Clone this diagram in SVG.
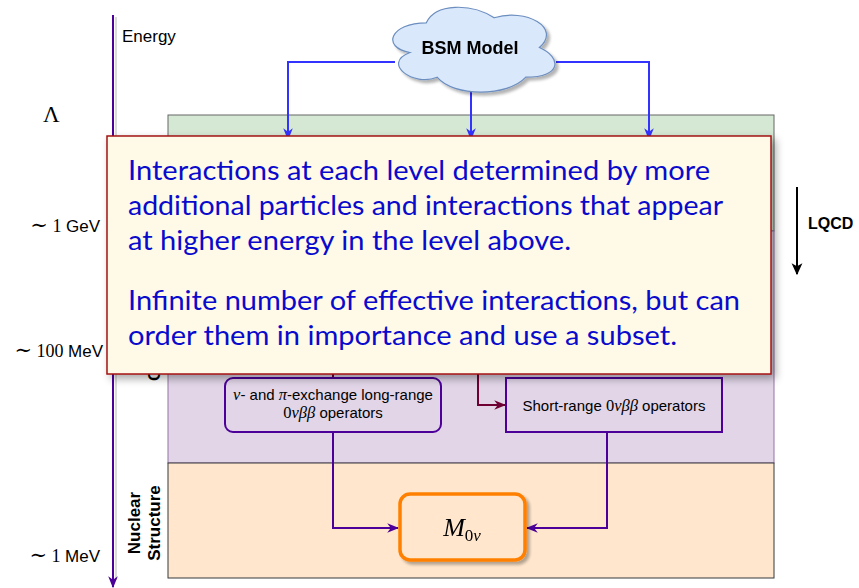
<svg xmlns="http://www.w3.org/2000/svg" width="859" height="588" viewBox="0 0 859 588">
<style>
.sans{font-family:"Liberation Sans",Arial,sans-serif;fill:#000}
.serif{font-family:"Liberation Serif","DejaVu Serif",serif;fill:#000}
.lbl{font-size:17px}
.bold{font-weight:bold}
.call{font-family:Lato,"Open Sans",sans-serif;font-size:26px;fill:#0a0acc}
.blue{fill:none;stroke:#3333ff;stroke-width:2}
.purp{fill:none;stroke:#4c0099;stroke-width:2}
.dred{fill:none;stroke:#6f0033;stroke-width:2}
</style>
<defs>
<filter id="sh" x="-10%" y="-10%" width="130%" height="130%">
<feGaussianBlur in="SourceAlpha" stdDeviation="4"/>
<feOffset dx="4" dy="4" result="b"/>
<feComponentTransfer><feFuncA type="linear" slope="0.35"/></feComponentTransfer>
<feMerge><feMergeNode/><feMergeNode in="SourceGraphic"/></feMerge>
</filter>
<filter id="sh2" x="-10%" y="-10%" width="130%" height="130%">
<feGaussianBlur in="SourceAlpha" stdDeviation="1.5"/>
<feOffset dx="3" dy="3" result="b"/>
<feComponentTransfer><feFuncA type="linear" slope="0.3"/></feComponentTransfer>
<feMerge><feMergeNode/><feMergeNode in="SourceGraphic"/></feMerge>
</filter>
<marker id="aBlue" markerUnits="userSpaceOnUse" markerWidth="12" markerHeight="12" viewBox="0 0 10 10" refX="9" refY="5" orient="auto"><path d="M0,1 L10,5 L0,9 L3,5 Z" fill="#3333ff"/></marker>
<marker id="aPurp" markerUnits="userSpaceOnUse" markerWidth="12" markerHeight="12" viewBox="0 0 10 10" refX="9" refY="5" orient="auto"><path d="M0,1 L10,5 L0,9 L3,5 Z" fill="#4c0099"/></marker>
<marker id="aRed" markerUnits="userSpaceOnUse" markerWidth="12" markerHeight="12" viewBox="0 0 10 10" refX="9" refY="5" orient="auto"><path d="M0,1 L10,5 L0,9 L3,5 Z" fill="#6f0033"/></marker>
<marker id="aBlk" markerUnits="userSpaceOnUse" markerWidth="12" markerHeight="14" viewBox="0 0 10 10" refX="9" refY="5" orient="auto"><path d="M0,0.5 L10,5 L0,9.5 L2.5,5 Z" fill="#000"/></marker>
</defs>
<rect width="859" height="588" fill="#fff"/>

<g id="bands">
<rect id="band-green" x="168" y="115" width="606" height="116" fill="#d5e8d4" stroke="#666" stroke-width="1"/>
<rect id="band-purple" x="168" y="231" width="606" height="232" fill="#e1d5e7" stroke="#9673a6" stroke-width="1"/>
<rect id="band-orange" x="168" y="463" width="606" height="115" fill="#ffe6cc" stroke="#36393d" stroke-width="1"/>
</g>

<g id="axis">
<line x1="116" y1="17" x2="116" y2="580" stroke="#cfcfcf" stroke-width="1.5"/>
<path d="M113,15 V587" class="purp" marker-end="url(#aPurp)"/>
<text x="122" y="42" class="sans lbl">Energy</text>
<text x="43" y="122" class="serif" font-size="23">Λ</text>
<text x="100" y="232" text-anchor="end" class="serif" font-size="18"><tspan font-size="21">∼</tspan> 1 <tspan class="sans" font-size="17">GeV</tspan></text>
<text x="103" y="357" text-anchor="end" class="serif" font-size="18"><tspan font-size="21">∼</tspan> 100 <tspan class="sans" font-size="17">MeV</tspan></text>
<text x="100" y="562" text-anchor="end" class="serif" font-size="18"><tspan font-size="21">∼</tspan> 1 <tspan class="sans" font-size="17">MeV</tspan></text>
</g>

<g id="side-labels">
<text transform="translate(160,381) rotate(-90)" class="sans bold lbl">C</text>
<text transform="translate(140,523) rotate(-90)" text-anchor="middle" class="sans bold lbl">Nuclear</text>
<text transform="translate(160,523) rotate(-90)" text-anchor="middle" class="sans bold lbl">Structure</text>
</g>

<g id="lqcd">
<path d="M797,187 V274" fill="none" stroke="#000" stroke-width="2" marker-end="url(#aBlk)"/>
<text x="808" y="229" class="sans bold" font-size="16">LQCD</text>
</g>

<g id="connectors">
<path d="M395,62 H288 V139" class="blue" marker-end="url(#aBlue)"/>
<path d="M471,92 V139" class="blue" marker-end="url(#aBlue)"/>
<path d="M556,62 H649 V139" class="blue" marker-end="url(#aBlue)"/>
<path d="M333,370 V378" class="dred"/>
<path d="M478,370 V405 H505" class="dred" marker-end="url(#aRed)"/>
<path d="M333,432 V528 H398" class="purp" marker-end="url(#aPurp)"/>
<path d="M607,432 V528 H527" class="purp" marker-end="url(#aPurp)"/>
</g>

<g id="bsm-model" filter="url(#sh2)">
<path d="M426.3,22.8 C390.1,22.8 381,47.5 410,52.5 C381,63.3 413.6,87.1 437.1,77.2 C453.4,97 507.7,97 525.8,77.2 C562,77.2 562,57.4 539.4,47.5 C562,27.7 525.8,7.9 494.1,17.8 C471.5,3 435.3,3 426.3,22.8 Z" fill="#dae8fc" stroke="#6c8ebf" stroke-width="1.2"/>
<text x="470" y="54" text-anchor="middle" class="sans bold" font-size="18">BSM Model</text>
</g>

<g id="long-range">
<rect x="225" y="378" width="216" height="54" rx="8" fill="#e1d5e7" stroke="#4c0099" stroke-width="2"/>
<text x="333" y="400" text-anchor="middle" class="sans" font-size="15"><tspan class="serif" font-style="italic" font-size="16.5">ν</tspan>- and <tspan class="serif" font-style="italic" font-size="16.5">π</tspan>-exchange long-range</text>
<text x="333" y="418" text-anchor="middle" class="sans" font-size="15"><tspan class="serif" font-size="16.5">0<tspan font-style="italic">νββ</tspan></tspan> operators</text>
</g>

<g id="short-range">
<rect x="506" y="378" width="216" height="54" fill="#e1d5e7" stroke="#4c0099" stroke-width="2"/>
<text x="614" y="411" text-anchor="middle" class="sans" font-size="15">Short-range <tspan class="serif" font-size="16.5">0<tspan font-style="italic">νββ</tspan></tspan> operators</text>
</g>

<g id="m0nu" filter="url(#sh2)">
<rect x="400" y="494" width="125" height="66" rx="10" fill="#ffe6cc" stroke="#ff8000" stroke-width="3.5"/>
<text x="462" y="536" text-anchor="middle" class="serif" font-size="26"><tspan font-style="italic">M</tspan><tspan font-size="17" dy="5">0<tspan font-style="italic">ν</tspan></tspan></text>
</g>

<g id="callout">
<rect x="107" y="136" width="664" height="238" fill="#fffae8" stroke="#a31515" stroke-width="1.5" filter="url(#sh)"/>
<text x="128" y="180" class="call" textLength="582" lengthAdjust="spacingAndGlyphs">Interactions at each level determined by more</text>
<text x="128" y="215" class="call" textLength="595" lengthAdjust="spacingAndGlyphs">additional particles and interactions that appear</text>
<text x="128" y="250" class="call" textLength="443" lengthAdjust="spacingAndGlyphs">at higher energy in the level above.</text>
<text x="128" y="310" class="call" textLength="612" lengthAdjust="spacingAndGlyphs">Infinite number of effective interactions, but can</text>
<text x="128" y="345" class="call" textLength="549" lengthAdjust="spacingAndGlyphs">order them in importance and use a subset.</text>
</g>
</svg>
